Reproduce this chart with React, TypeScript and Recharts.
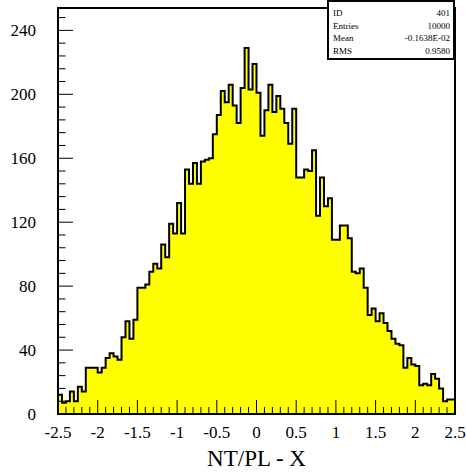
import React from 'react';
import { ComposedChart, Area, XAxis, YAxis, ReferenceArea } from 'recharts';

// 100 bins from -2.5 to 2.5
const binLow = -2.5;
const binWidth = 0.05;
const counts = [
  12, 7, 8, 14, 8, 17, 14, 29, 29, 29,
  26, 29, 35, 38, 36, 34, 48, 58, 47, 59,
  79, 79, 81, 89, 94, 91, 106, 98, 119, 113,
  132, 113, 153, 144, 157, 144, 158, 159, 160, 175,
  187, 202, 195, 206, 193, 182, 204, 229, 203, 219,
  201, 174, 190, 206, 189, 199, 191, 182, 169, 191,
  148, 148, 153, 152, 165, 124, 148, 130, 135, 109,
  109, 118, 118, 110, 89, 88, 91, 79, 62, 66,
  58, 63, 57, 52, 47, 44, 43, 29, 35, 31,
  30, 18, 19, 18, 25, 22, 16, 8, 9, 9,
];

const xMajorTicks = [-2.5, -2, -1.5, -1, -0.5, 0, 0.5, 1, 1.5, 2, 2.5];
const yMajorTicks = [0, 40, 80, 120, 160, 200, 240];
const yMax = 254;

const statsRows = [
  ['ID', '401'],
  ['Entries', '10000'],
  ['Mean', '-0.1638E-02'],
  ['RMS', '0.9580'],
];

const FONT = 'Liberation Serif, Times New Roman, serif';

// minor ticks: 5 per major division
const xTicks: number[] = [];
for (let i = 0; i < xMajorTicks.length - 1; i++) {
  const a = xMajorTicks[i];
  const b = xMajorTicks[i + 1];
  for (let k = 0; k < 5; k++) xTicks.push(+(a + ((b - a) * k) / 5).toFixed(3));
}
xTicks.push(xMajorTicks[xMajorTicks.length - 1]);

const yTicks: number[] = [];
for (let i = 0; i < yMajorTicks.length - 1; i++) {
  const a = yMajorTicks[i];
  const b = yMajorTicks[i + 1];
  for (let k = 0; k < 5; k++) yTicks.push(a + ((b - a) * k) / 5);
}
yTicks.push(240, 248);

const isMajor = (v: number, list: number[]) => list.some((m) => Math.abs(m - v) < 1e-6);

const data = counts.map((n, i) => ({ x: +(binLow + i * binWidth).toFixed(3), n }));
data.push({ x: 2.5, n: counts[counts.length - 1] });

const textStyle = { fontFamily: FONT, fill: '#000' };

const XTick = (props: any) => {
  const { x, y, payload } = props;
  const major = isMajor(payload.value, xMajorTicks);
  return (
    <g>
      <line x1={x} x2={x} y1={y} y2={y - (major ? 14 : 7)} stroke="#000" strokeWidth={1} />
      {major && (
        <text x={x} y={y + 24} textAnchor="middle" fontSize={17} style={textStyle}>
          {String(payload.value)}
        </text>
      )}
    </g>
  );
};

const YTick = (props: any) => {
  const { x, y, payload } = props;
  const major = isMajor(payload.value, yMajorTicks);
  return (
    <g>
      <line x1={x} x2={x + (major ? 15 : 7.5)} y1={y} y2={y} stroke="#000" strokeWidth={1} />
      {major && (
        <text x={x - 22} y={y + 6} textAnchor="end" fontSize={17} style={textStyle}>
          {String(payload.value)}
        </text>
      )}
    </g>
  );
};

export default function App() {
  return (
    <div
      style={{
        position: 'absolute',
        left: 0,
        top: 0,
        width: 466,
        height: 472,
        background: '#fff',
        fontFamily: FONT,
      }}
    >
      <ComposedChart
        width={466}
        height={472}
        data={data}
        margin={{ top: 8, right: 11, bottom: 0, left: 0 }}
        style={{ fontFamily: FONT }}
      >
        <XAxis
          type="number"
          dataKey="x"
          domain={[-2.5, 2.5]}
          ticks={xTicks}
          interval={0}
          allowDataOverflow
          height={58}
          tickSize={0}
          tickMargin={0}
          tickLine={false}
          axisLine={{ stroke: '#000', strokeWidth: 2 }}
          tick={<XTick />}
          label={{
            value: 'NT/PL - X',
            position: 'insideBottom',
            offset: 6,
            fill: '#000',
            fontSize: 23,
            style: { fontFamily: FONT },
          }}
        />
        <YAxis
          type="number"
          domain={[0, yMax]}
          ticks={yTicks}
          interval={0}
          allowDataOverflow
          width={58}
          tickSize={0}
          tickMargin={0}
          tickLine={false}
          axisLine={{ stroke: '#000', strokeWidth: 2 }}
          tick={<YTick />}
        />
        <Area
          type="stepAfter"
          dataKey="n"
          stroke="#000"
          strokeWidth={2}
          fill="#ffff00"
          fillOpacity={1}
          dot={false}
          activeDot={false}
          isAnimationActive={false}
        />
        <ReferenceArea
          x1={-2.5}
          x2={2.5}
          y1={0}
          y2={yMax}
          fill="none"
          stroke="#000"
          strokeWidth={2}
          ifOverflow="visible"
        />
      </ComposedChart>
      <div
        style={{
          position: 'absolute',
          left: 327,
          top: 0,
          width: 128,
          height: 60,
          boxSizing: 'border-box',
          border: '2px solid #000',
          background: '#fff',
          padding: '5px 3px 0 4px',
          fontFamily: FONT,
          fontSize: 9,
          color: '#000',
        }}
      >
        {statsRows.map(([k, v]) => (
          <div
            key={k}
            style={{ display: 'flex', justifyContent: 'space-between', height: 12.7, lineHeight: '12.7px' }}
          >
            <span>{k}</span>
            <span>{v}</span>
          </div>
        ))}
      </div>
    </div>
  );
}
